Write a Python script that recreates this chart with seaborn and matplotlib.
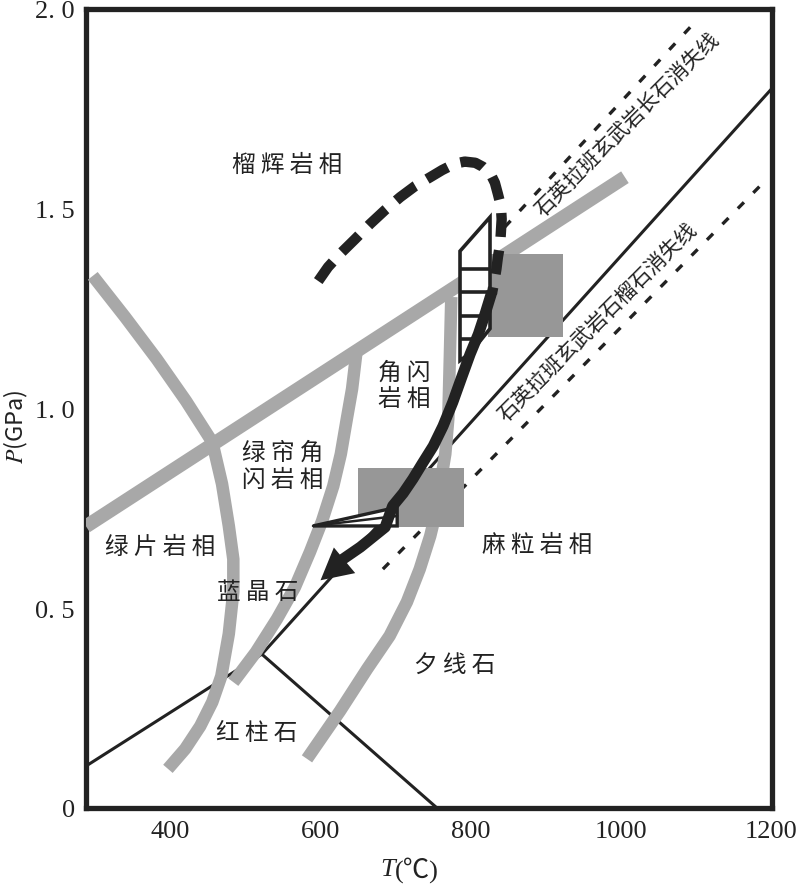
import matplotlib
matplotlib.use("Agg")
import matplotlib.pyplot as plt
import seaborn as sns
import numpy as np
from matplotlib.patches import Rectangle, Polygon

sns.set_theme(style="white")
plt.rcParams["font.family"] = ["Noto Sans CJK SC", "DejaVu Sans"]
plt.rcParams["mathtext.fontset"] = "stix"

# ---------------- data (T in degC, P in GPa) ----------------
# facies boundaries (gray)
gs_amp_T = [288, 1005]
gs_amp_P = [0.705, 1.579]

blue_T = [297, 340, 382, 421, 456, 469, 478, 484, 484, 478, 468, 456, 440, 420, 397]
blue_P = [1.332, 1.229, 1.124, 1.019, 0.916, 0.811, 0.706, 0.623, 0.541, 0.436,
          0.330, 0.265, 0.205, 0.148, 0.098]

epamp_T = [648, 642, 635, 627, 617, 602, 586, 566, 542, 514, 484]
epamp_P = [1.144, 1.049, 0.974, 0.886, 0.806, 0.718, 0.641, 0.553, 0.473, 0.390, 0.315]

amp_T = [774, 772, 770, 766, 759, 754, 746, 732, 715, 692, 662, 626, 582]
amp_P = [1.279, 1.124, 0.974, 0.886, 0.806, 0.743, 0.681, 0.598, 0.516, 0.431,
         0.348, 0.243, 0.123]

# Al2SiO5 triple point lines
and_ky_T = [288, 522]
and_ky_P = [0.105, 0.385]
ky_sil_T = [522, 1200]
ky_sil_P = [0.385, 1.80]
and_sil_T = [522, 755]
and_sil_P = [0.385, 0.0]

# disappearance lines (dotted)
fsp_out_T = [845, 1102]
fsp_out_P = [1.454, 1.975]
grt_out_T = [683, 1191]
grt_out_P = [0.598, 1.569]

# P-T estimate boxes: (Tmin, Tmax, Pmin, Pmax)
box_hp = (823, 923, 1.179, 1.387)
box_lp = (650, 791, 0.703, 0.851)

# prograde (dashed) path
pro_T = [597, 610, 626, 646, 666, 686, 706, 726, 746, 762, 779, 792, 806, 816,
         826, 832, 836, 840, 841, 840, 839, 836, 834, 831, 828]
pro_P = [1.319, 1.354, 1.387, 1.424, 1.462, 1.497, 1.529, 1.557, 1.579, 1.597,
         1.613, 1.618, 1.615, 1.605, 1.588, 1.565, 1.537, 1.507, 1.474, 1.442,
         1.412, 1.379, 1.349, 1.316, 1.287]

# retrograde (solid) path
ret_T = [828, 819, 810, 799, 788, 776, 763, 750, 735, 723, 710, 696, 686, 653, 626]
ret_P = [1.292, 1.237, 1.186, 1.136, 1.079, 1.016, 0.956, 0.906, 0.861, 0.824,
         0.788, 0.756, 0.703, 0.653, 0.618]
ret_tip = (600, 0.570)

# hatched decompression wedge
wedge_T = [825.5, 785.6, 785.6, 800, 825.5]
wedge_P = [1.479, 1.394, 1.12, 1.14, 1.20]
wedge_rungs_P = [1.349, 1.292, 1.232, 1.174]

# lower cooling wedge
cool_T = [590, 702, 702]
cool_P = [0.706, 0.753, 0.706]
cool_inner_T = [590, 702]
cool_inner_P = [0.706, 0.731]

# labels
facies_labels = ["榴 辉 岩 相", "角 闪\n岩 相", "绿 帘 角\n闪 岩 相", "绿 片 岩 相",
                 "麻 粒 岩 相", "蓝 晶 石", "红 柱 石", "夕 线 石"]
facies_T = [555, 711, 550, 386, 888, 517, 515, 779]
facies_P = [1.612, 1.058, 0.856, 0.656, 0.661, 0.543, 0.190, 0.360]

line_labels = ["石英拉班玄武岩长石消失线", "石英拉班玄武岩石榴石消失线"]
line_label_T = [1008, 969]
line_label_P = [1.712, 1.219]

xticks = [400, 500, 600, 700, 800, 900, 1000, 1100, 1200]
xticklabels = ["400", "", "600", "", "800", "", "1000", "", "1200"]
yticks = [round(v, 1) for v in np.arange(0, 2.01, 0.1)]
yticklabels = ["0" if v == 0 else (f"{v:.1f}".replace(".", ". ") if round(v * 10) % 5 == 0 else "")
               for v in yticks]

# ---------------- figure ----------------
GRAY = "#a8a8a8"
BOX = "#979797"
INK = "#222222"

fig = plt.figure(figsize=(8, 8.87), dpi=100)
ax = fig.add_axes([86 / 800, 1 - 809 / 887, (771.5 - 86) / 800, (809 - 10) / 887])
ax.set_xlim(288, 1200)
ax.set_ylim(0, 2.0)

# thin black Al2SiO5 lines
for tt, pp in [(and_ky_T, and_ky_P), (ky_sil_T, ky_sil_P), (and_sil_T, and_sil_P)]:
    ax.plot(tt, pp, color=INK, lw=2.2, zorder=2, solid_capstyle="butt")

# dotted lines
for tt, pp in [(fsp_out_T, fsp_out_P), (grt_out_T, grt_out_P)]:
    ax.plot(tt, pp, color=INK, lw=2.4, linestyle=(0, (2.6, 4.0)), zorder=2,
            dash_capstyle="butt")

# gray facies boundaries
sns.lineplot(x=gs_amp_T, y=gs_amp_P, sort=False, estimator=None, color=GRAY,
             linewidth=10, solid_capstyle="butt", ax=ax, zorder=3)
for tt, pp in [(blue_T, blue_P), (epamp_T, epamp_P), (amp_T, amp_P)]:
    sns.lineplot(x=tt, y=pp, sort=False, estimator=None, color=GRAY, linewidth=9,
                 solid_capstyle="butt", solid_joinstyle="round", ax=ax, zorder=3)

# boxes
for b in (box_hp, box_lp):
    ax.add_patch(Rectangle((b[0], b[2]), b[1] - b[0], b[3] - b[2], facecolor=BOX,
                           edgecolor="none", zorder=4))

# hatched wedge
wedge = Polygon(list(zip(wedge_T, wedge_P)), closed=True, facecolor="white",
                edgecolor=INK, lw=2.6, zorder=5, joinstyle="miter")
ax.add_patch(wedge)
for p in wedge_rungs_P:
    ln, = ax.plot([wedge_T[1], wedge_T[0]], [p, p], color=INK, lw=2.6, zorder=5)
    ln.set_clip_path(wedge)

# lower cooling wedge
ax.add_patch(Polygon(list(zip(cool_T, cool_P)), closed=True, facecolor="white",
                     edgecolor=INK, lw=2.4, zorder=6, joinstyle="miter"))
ax.plot(cool_inner_T, cool_inner_P, color=INK, lw=1.8, zorder=6)

# prograde dashed path
ax.plot(pro_T, pro_P, color=INK, lw=7.5, linestyle=(0, (2.3, 1.3)), zorder=7,
        dash_capstyle="butt", solid_joinstyle="round")

# retrograde solid path with arrow head
ax.plot(ret_T, ret_P, color=INK, lw=8, zorder=7, solid_capstyle="butt",
        solid_joinstyle="round")
ax.annotate("", xy=ret_tip, xytext=(ret_T[-2], ret_P[-2]),
            arrowprops=dict(arrowstyle="-|>,head_length=1.5,head_width=0.8",
                            mutation_scale=15, lw=0, color=INK,
                            shrinkA=0, shrinkB=0), zorder=8)

# text labels
for s, t, p in zip(facies_labels, facies_T, facies_P):
    ax.text(t, p, s, fontsize=17, color=INK, ha="center", va="center",
            linespacing=1.2, zorder=9, fontweight="light")
for s, t, p in zip(line_labels, line_label_T, line_label_P):
    ax.text(t, p, s, fontsize=15, color=INK, ha="center", va="center",
            rotation=45, rotation_mode="anchor", zorder=9, fontweight="light")

# axes styling
ax.set_xticks(xticks)
ax.set_xticklabels(xticklabels, fontfamily="Liberation Serif", fontsize=19, color=INK)
ax.set_yticks(yticks)
ax.set_yticklabels(yticklabels, fontfamily="Liberation Serif", fontsize=19, color=INK)
ax.tick_params(direction="in", length=11, width=2.5, color=INK, pad=8)
ax.tick_params(axis="x", pad=9)
for sp in ax.spines.values():
    sp.set_visible(True)
    sp.set_linewidth(3.8)
    sp.set_color(INK)
ax.set_xlabel("")
ax.set_ylabel("")

fig.text(16 / 800, 1 - 427 / 887, "$P$(GPa)", rotation=90, fontsize=17,
         ha="center", va="center", color=INK)
fig.text(395 / 800, 1 - 870 / 887, "T", fontfamily="Liberation Serif",
         style="italic", fontsize=19, ha="right", va="center", color=INK)
fig.text(395 / 800, 1 - 870 / 887, "(℃)",
         fontfamily=["Liberation Serif", "Noto Sans CJK SC", "DejaVu Sans"],
         fontsize=19, ha="left", va="center", color=INK)

fig.savefig("out.png", dpi=100, facecolor="white")
